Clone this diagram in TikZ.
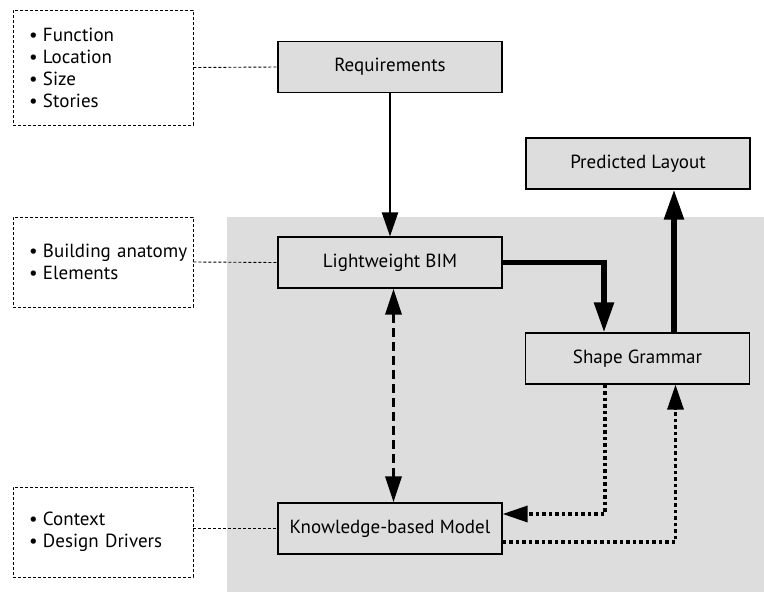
\documentclass[tikz,border=0pt]{standalone}
\usepackage{fontspec}
\setmainfont{PT Sans}
\usepackage{xcolor}
\usetikzlibrary{arrows.meta}
\definecolor{panelgray}{RGB}{221,221,221}

\begin{document}
\begin{tikzpicture}[x=1pt,y=-1pt,
	box/.style={draw, line width=1.2pt, fill=panelgray, minimum width=224pt, minimum height=51pt, inner sep=0pt, font=\fontsize{19}{22}\selectfont},
	note/.style={draw, dashed, dash pattern=on 3pt off 2pt, line width=0.9pt, fill=white, text width=176pt, inner xsep=2pt, inner ysep=0pt, minimum height=#1, align=left, font=\fontsize{19}{22}\selectfont},
	link/.style={dashed, dash pattern=on 3pt off 2pt, line width=0.9pt},
	flow/.style={line width=2.2pt, -{Triangle[length=24pt,width=16pt]}},
	mainflow/.style={line width=5.5pt, -{Triangle[length=30pt,width=19pt]}},
	feedback/.style={line width=3.5pt, dash pattern=on 9pt off 5pt, {Triangle[length=26pt,width=16pt]}-{Triangle[length=26pt,width=16pt]}},
	rule/.style={line width=3.2pt, dash pattern=on 3.5pt off 3pt, -{Triangle[length=25pt,width=16pt]}}]
	\newcommand\NoteItem{\hspace*{14pt}\makebox[14pt][l]{\textbullet}}

	\useasboundingbox (0,0) rectangle (764,592);
	\fill[panelgray] (227,217) rectangle (764,592);

	\node[box] (req) at (390,67) {Requirements};
	\node[box] (bim) at (390,262.5) {Lightweight BIM};
	\node[box] (kbm) at (390,528.5) {Knowledge-based Model};
	\node[box] (grammar) at (637.5,358.5) {Shape Grammar};
	\node[box] (layout) at (638,163.5) {Predicted Layout};

	\node[note=115pt] (reqnote) at (103,67.5) {\NoteItem Function\\ \NoteItem Location\\ \NoteItem Size\\ \NoteItem Stories};
	\node[note=90pt] (bimnote) at (103,262) {\NoteItem Building anatomy\\ \NoteItem Elements};
	\node[note=90pt] (kbmnote) at (103,532) {\NoteItem Context\\ \NoteItem Design Drivers};

	\draw[link] (reqnote.east) -- (req.west);
	\draw[link] (bimnote.east) -- (bim.west);
	\draw[link] (kbm.west -| kbmnote.east) -- (kbm.west);

	\draw[flow] (req) -- (bim);
	\draw[mainflow] (bim.east) -| ([xshift=-33.5pt]grammar.north);
	\draw[mainflow] ([xshift=36.5pt]grammar.north) -- ([xshift=36.5pt]grammar.north |- layout.south);
	\draw[feedback] ([xshift=3.5pt]bim.south) -- ([xshift=3.5pt]kbm.north);
	\draw[rule] ([xshift=-32.5pt]grammar.south) |- ([yshift=14.5pt]kbm.east);
	\draw[rule] ([yshift=-13.5pt]kbm.east) -| ([xshift=38pt]grammar.south);
\end{tikzpicture}
\end{document}
